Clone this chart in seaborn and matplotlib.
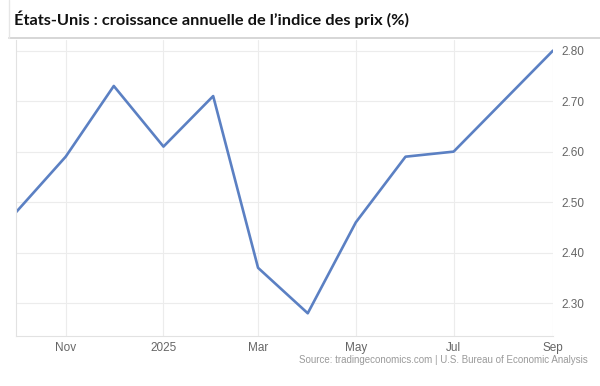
import matplotlib
matplotlib.use("Agg")
import matplotlib.pyplot as plt
import pandas as pd
import seaborn as sns

# Données (glissement annuel, %)
months = pd.date_range("2024-10-01", "2025-09-01", freq="MS")
inflation = [2.48, 2.59, 2.73, 2.61, 2.71, 2.37, 2.28, 2.46, 2.59, 2.60, 2.70, 2.80]
y_ticks = [2.30, 2.40, 2.50, 2.60, 2.70, 2.80]
x_ticks = ["2024-11-01", "2025-01-01", "2025-03-01", "2025-05-01", "2025-07-01", "2025-09-01"]
x_labels = ["Nov", "2025", "Mar", "May", "Jul", "Sep"]

TITLE = "États-Unis : croissance annuelle de l\u2019indice des prix (%)"
SOURCE = "Source: tradingeconomics.com | U.S. Bureau of Economic Analysis"
LINE_COLOR = "#5b80c3"
GRID_COLOR = "#ececec"
TICK_COLOR = "#666666"

df = pd.DataFrame({"date": months, "value": inflation})

sns.set_theme(style="white")
plt.rcParams["font.family"] = ["Liberation Sans", "DejaVu Sans"]

W, H = 600, 386
fig = plt.figure(figsize=(W / 100, H / 100), dpi=100)
ax = fig.add_axes([16 / W, 1 - 336 / H, (553 - 16) / W, (336 - 40) / H])

sns.lineplot(data=df, x="date", y="value", ax=ax, color=LINE_COLOR, linewidth=1.9)

ax.set_xlim(months[0], months[-1])
ax.set_ylim(2.235, 2.821)
ax.set_xlabel("")
ax.set_ylabel("")

ax.set_yticks(y_ticks)
ax.set_yticklabels([f"{v:.2f}" for v in y_ticks])
ax.yaxis.tick_right()
ax.set_xticks(pd.to_datetime(x_ticks))
ax.set_xticklabels(x_labels)
ax.tick_params(axis="both", length=0, labelsize=8.5, colors=TICK_COLOR)
ax.tick_params(axis="x", pad=4)
ax.tick_params(axis="y", pad=6)

ax.grid(True, color=GRID_COLOR, linewidth=0.8)
for side in ("top", "right"):
    ax.spines[side].set_visible(False)
for side in ("left", "bottom"):
    ax.spines[side].set_color("#e2e2e2")
    ax.spines[side].set_linewidth(0.8)

# Encadré du titre avec une ombre légère
fig.add_artist(plt.Line2D([9 / W, 1], [1 - 37.5 / H] * 2, color="#d6d6d6", linewidth=1.4,
                          transform=fig.transFigure))
fig.add_artist(plt.Line2D([9 / W, 9 / W], [1 - 37.5 / H, 1], color="#e6e6e6", linewidth=1.0,
                          transform=fig.transFigure))
fig.text(14 / W, 1 - 19 / H, TITLE, fontsize=11.8, fontweight="bold", color="#111111",
         family=["Lato", "DejaVu Sans"], ha="left", va="center")

fig.text(588 / W, 1 - 360 / H, SOURCE, fontsize=7.0, color="#9a9a9a", ha="right", va="center")

fig.savefig("out.png", dpi=100)
